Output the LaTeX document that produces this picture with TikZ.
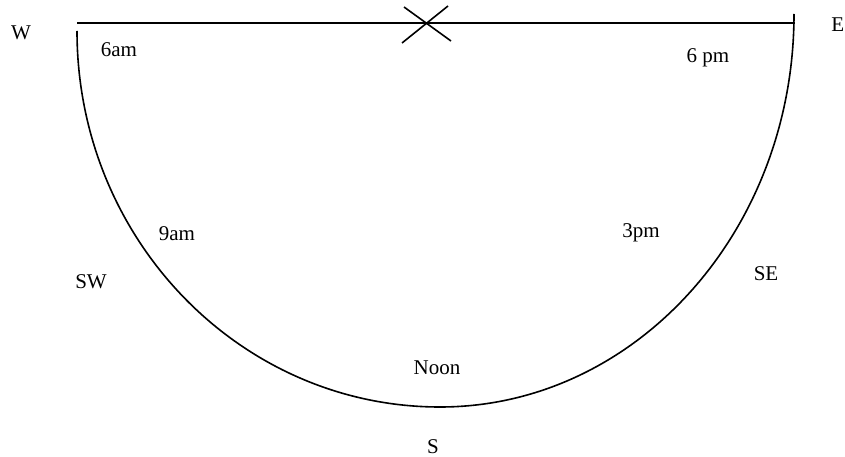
\documentclass[tikz,border=0pt]{standalone}
\usepackage{fontspec}
\setmainfont{Liberation Serif}
\begin{document}
\begin{tikzpicture}[x=1pt,y=-1pt,
  lbl/.style={anchor=base,inner sep=0pt,font=\fontsize{21}{25}\selectfont},
  curve/.style={line width=1.6pt}]
\useasboundingbox (0,0) rectangle (845,457);
% horizon line
\coordinate (wend) at (77,23);
\coordinate (eend) at (795,23);
\draw[curve] (wend) -- (eend);
% cross
\coordinate (xa) at (404,7);
\coordinate (xb) at (451,41);
\coordinate (xc) at (448,6);
\coordinate (xd) at (402,43);
\draw[curve] (xa) -- (xb);
\draw[curve] (xc) -- (xd);
% sun path
\coordinate (arcstart) at (77,31);
\draw[curve] (arcstart) arc[start angle=180,end angle=270,x radius=363pt,y radius=376pt]
  coordinate (bottom)
  arc[start angle=270,end angle=360,x radius=354pt,y radius=393pt] coordinate (arcend);
% labels
\node[lbl] (W) at (21,40) {W};
\node[lbl,anchor=base east] (E) at (844.5,32) {E};
\node[lbl] (am6) at (119,57) {6am};
\node[lbl] (pm6) at (708,63) {6 pm};
\node[lbl] (am9) at (177,240) {9am};
\node[lbl] (pm3) at (641,237) {3pm};
\node[lbl] (SW) at (91,288) {SW};
\node[lbl] (SE) at (766,280) {SE};
\node[lbl] (noon) at (437,374) {Noon};
\node[lbl] (S) at (433,453) {S};
\end{tikzpicture}
\end{document}
